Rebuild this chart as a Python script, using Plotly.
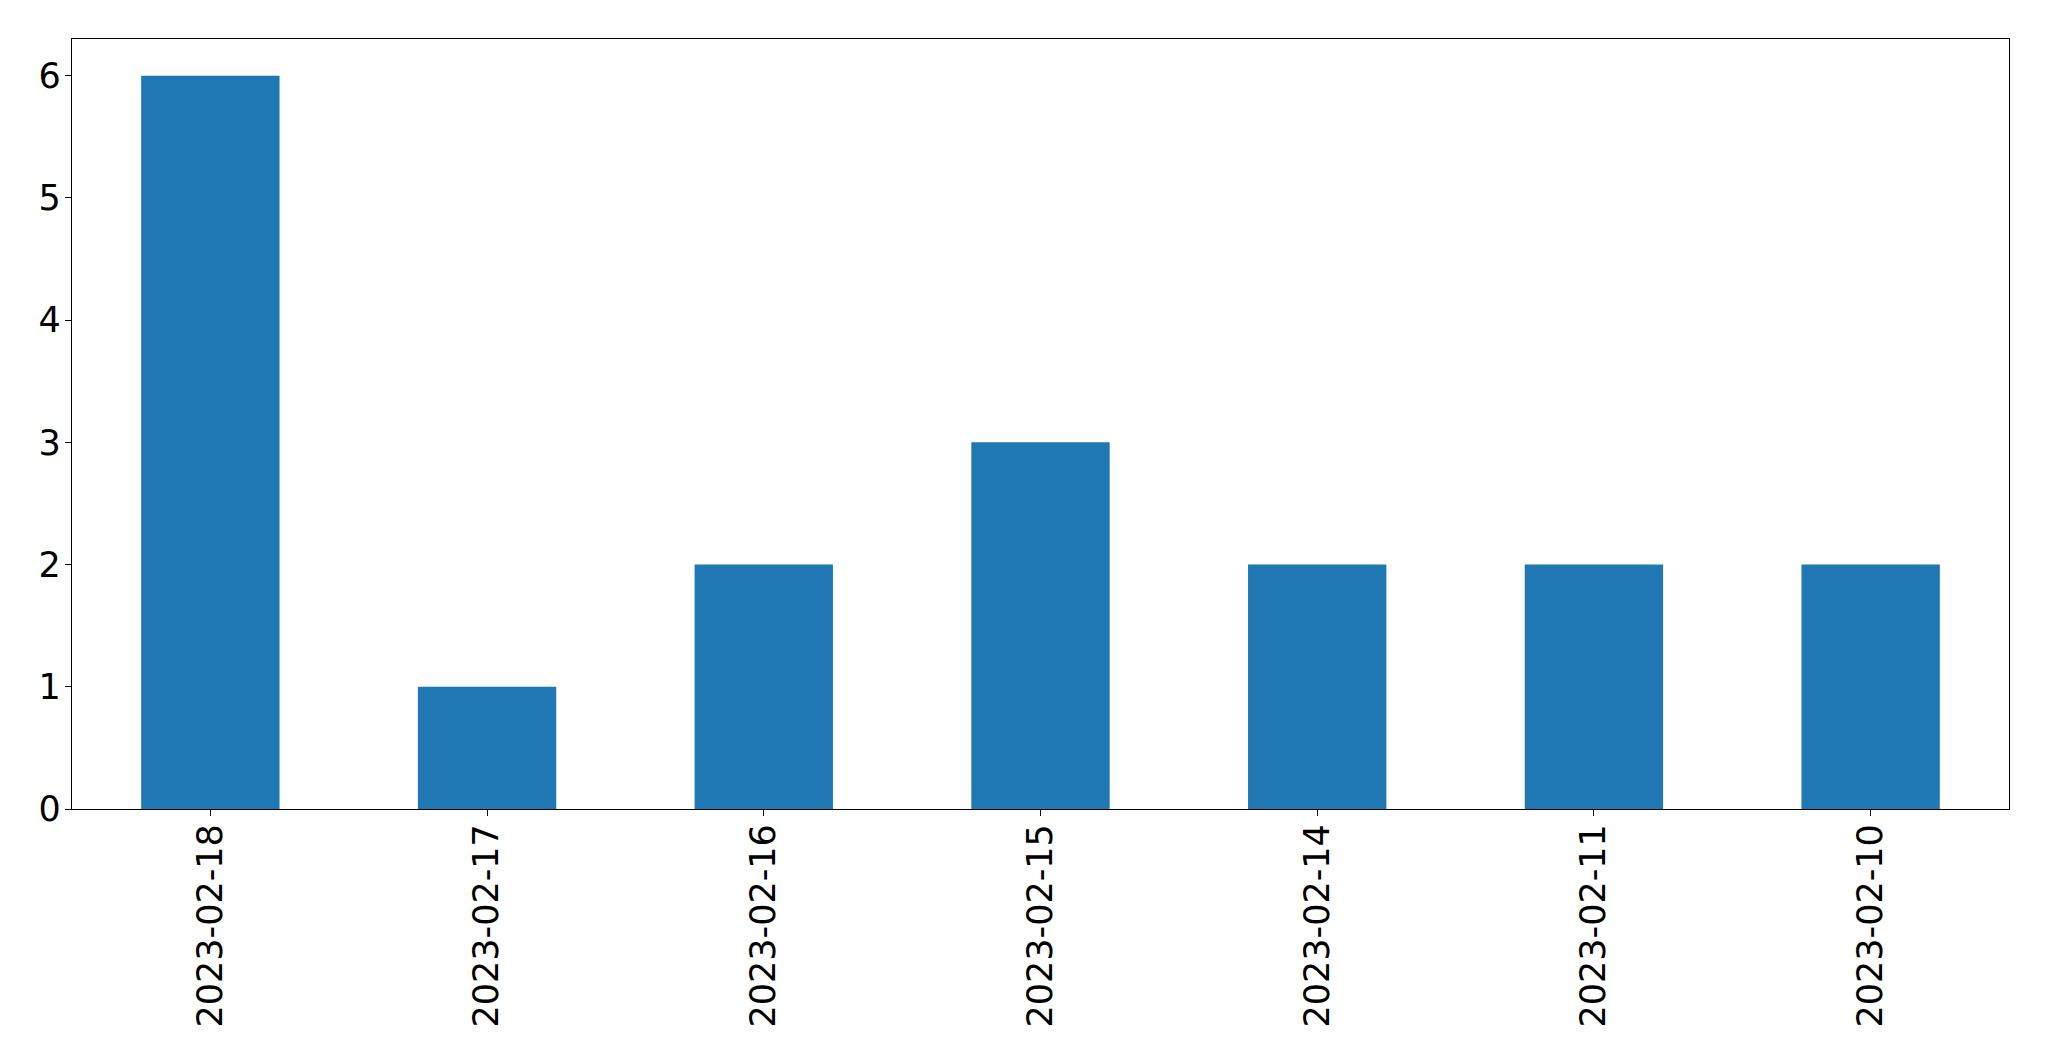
import plotly.graph_objects as go

dates = ["2023-02-18", "2023-02-17", "2023-02-16", "2023-02-15", "2023-02-14", "2023-02-11", "2023-02-10"]
counts = [6, 1, 2, 3, 2, 2, 2]
y_ticks = [0, 1, 2, 3, 4, 5, 6]

fig = go.Figure(go.Bar(x=dates, y=counts, width=0.5, marker=dict(color="#1f77b4", line=dict(width=0))))

axis_common = dict(
    showline=True, linecolor="black", linewidth=1.3, mirror=True,
    ticks="outside", ticklen=6, tickwidth=1.3, tickcolor="black",
    showgrid=False, zeroline=False,
    tickfont=dict(family="DejaVu Sans", size=35, color="black"),
)

fig.update_layout(
    width=2041, height=1053,
    margin=dict(l=64, r=40, t=31, b=252),
    plot_bgcolor="white", paper_bgcolor="white",
    showlegend=False,
    xaxis=dict(type="category", range=[-0.5, 6.5], tickangle=-90, ticklabelstandoff=-6, **axis_common),
    yaxis=dict(range=[0, 6.3], tickvals=y_ticks, ticklabelstandoff=-3, **axis_common),
)

fig.write_html("out.html")
